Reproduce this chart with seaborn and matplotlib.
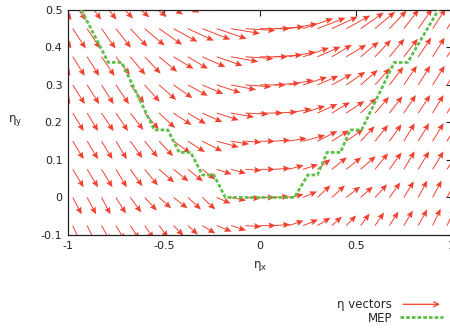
import numpy as np
import matplotlib
matplotlib.use("Agg")
import matplotlib.pyplot as plt
import seaborn as sns
from matplotlib.patches import FancyArrowPatch
from matplotlib.lines import Line2D
from matplotlib.legend_handler import HandlerBase
from matplotlib.ticker import FuncFormatter

# grid of the eta vectors (columns x, rows y)
eta_x = np.linspace(-1.05, 1.05, 29)
eta_y = [-0.075, 0.0, 0.075, 0.15, 0.225, 0.3, 0.375, 0.45, 0.525]

# vector components, one list per row (bottom to top), columns left to right
u_rows = [
    [.042,.042,.042,.047,.047,.047,.047,.047,.052,.052,.068,.078,.078,.083,.083,
     .083,.078,.078,.068,.052,.052,.047,.047,.047,.047,.047,.042,.042,.042],
    [.047,.047,.047,.047,.052,.057,.063,.063,.073,.068,.068,.073,.078,.078,.078,
     .078,.078,.073,.068,.068,.073,.063,.063,.057,.052,.047,.047,.047,.047],
    [.057,.057,.057,.057,.057,.063,.068,.078,.078,.078,.068,.078,.078,.083,.078,
     .083,.078,.078,.068,.078,.078,.078,.068,.063,.057,.057,.057,.057,.057],
    [.057,.057,.057,.057,.057,.063,.068,.073,.089,.089,.104,.115,.094,.083,.078,
     .083,.094,.115,.104,.089,.089,.073,.068,.063,.057,.057,.057,.057,.057],
    [.057,.057,.057,.063,.063,.068,.073,.083,.094,.094,.104,.115,.120,.120,.120,
     .120,.120,.115,.104,.094,.094,.083,.073,.068,.063,.063,.057,.057,.057],
    [.063,.063,.063,.063,.068,.073,.078,.089,.099,.104,.109,.125,.130,.135,.135,
     .135,.130,.125,.109,.104,.099,.089,.078,.073,.068,.063,.063,.063,.063],
    [.063,.063,.063,.068,.073,.078,.083,.094,.104,.104,.120,.135,.141,.146,.146,
     .146,.141,.135,.120,.104,.104,.094,.083,.078,.073,.068,.063,.063,.063],
    [.068,.068,.068,.073,.078,.089,.104,.120,.125,.135,.146,.156,.151,.156,.156,
     .156,.151,.156,.146,.135,.125,.120,.104,.089,.078,.073,.068,.068,.068],
    [.068,.068,.073,.078,.089,.099,.115,.125,.135,.146,.151,.156,.161,.161,.161,
     .161,.161,.156,.151,.146,.135,.125,.115,.099,.089,.078,.073,.068,.068],
]
v_rows = [
    [-.048,-.048,-.045,-.043,-.040,-.037,-.035,-.032,-.027,-.024,-.021,-.016,-.013,-.003,0,
     .003,.013,.016,.021,.024,.027,.032,.035,.037,.040,.043,.045,.048,.048],
    [-.045,-.045,-.045,-.045,-.043,-.040,-.035,-.029,-.029,-.032,-.032,-.016,-.008,-.003,0,
     .003,.008,.016,.032,.032,.029,.029,.035,.040,.043,.045,.045,.045,.045],
    [-.048,-.048,-.048,-.048,-.048,-.045,-.043,-.035,-.032,-.032,-.027,-.013,-.011,-.003,0,
     .003,.011,.013,.027,.032,.032,.035,.043,.045,.048,.048,.048,.048,.048],
    [-.048,-.048,-.048,-.048,-.048,-.045,-.043,-.040,-.032,-.029,-.027,-.016,-.008,-.003,0,
     .003,.008,.016,.027,.029,.032,.040,.043,.045,.048,.048,.048,.048,.048],
    [-.048,-.048,-.048,-.048,-.048,-.045,-.043,-.040,-.032,-.029,-.024,-.019,-.011,-.003,0,
     .003,.011,.019,.024,.029,.032,.040,.043,.045,.048,.048,.048,.048,.048],
    [-.051,-.051,-.051,-.051,-.051,-.048,-.045,-.040,-.035,-.029,-.024,-.021,-.013,-.005,0,
     .005,.013,.021,.024,.029,.035,.040,.045,.048,.051,.051,.051,.051,.051],
    [-.051,-.051,-.051,-.051,-.048,-.048,-.045,-.040,-.032,-.032,-.027,-.024,-.013,-.005,0,
     .005,.013,.024,.027,.032,.032,.040,.045,.048,.048,.051,.051,.051,.051],
    [-.053,-.053,-.053,-.053,-.051,-.048,-.045,-.043,-.035,-.032,-.029,-.027,-.013,-.005,0,
     .005,.013,.027,.029,.032,.035,.043,.045,.048,.051,.053,.053,.053,.053],
    [-.053,-.053,-.051,-.051,-.048,-.045,-.043,-.037,-.032,-.027,-.024,-.019,-.013,-.005,0,
     .005,.013,.019,.024,.027,.032,.037,.043,.045,.048,.051,.051,.053,.053],
]

# minimum energy path
mep_x = [-0.93, -0.79, -0.72, -0.55, -0.48, -0.42, -0.36, -0.30, -0.24, -0.18,
         0.18, 0.25, 0.30, 0.35, 0.42, 0.47, 0.53, 0.70, 0.77, 0.93]
mep_y = [0.5, 0.36, 0.36, 0.18, 0.18, 0.12, 0.12, 0.06, 0.06, 0.0,
         0.0, 0.06, 0.06, 0.12, 0.12, 0.18, 0.18, 0.36, 0.36, 0.5]

red = "#f2402e"
green = "#5cbf48"

sns.set_style("white")
plt.rcParams["font.family"] = ["DejaVu Sans"]

fig = plt.figure(figsize=(4.5, 3.3), dpi=100)
ax = fig.add_axes([0.151, 0.288, 0.853, 0.682])

X, Y = np.meshgrid(eta_x, eta_y)
ax.quiver(X, Y, np.array(u_rows), np.array(v_rows), angles="xy",
          scale_units="xy", scale=1, color=red, width=0.0025,
          headwidth=6.5, headlength=7.5, headaxislength=6.5, zorder=2)

sns.lineplot(x=mep_x, y=mep_y, sort=False, estimator=None, ax=ax,
             color=green, lw=2.0, linestyle=(0, (1.3, 0.75)), zorder=3)

ax.set_xlim(-1, 1)
ax.set_ylim(-0.1, 0.5)
ax.set_xticks([-1, -0.5, 0, 0.5, 1])
ax.set_yticks([-0.1, 0, 0.1, 0.2, 0.3, 0.4, 0.5])
fmt = FuncFormatter(lambda v, p: "%g" % round(v, 2))
ax.xaxis.set_major_formatter(fmt)
ax.yaxis.set_major_formatter(fmt)
ax.tick_params(direction="in", top=True, right=True, length=4.5, width=0.8,
               labelsize=8, colors="#222222", pad=4)
for s in ax.spines.values():
    s.set_color("#222222")
    s.set_linewidth(0.9)

ax.set_xlabel("η$_\\mathregular{x}$", fontsize=8.5, labelpad=6)
ax.set_ylabel("η$_\\mathregular{y}$", fontsize=8.5, rotation=0, va="center", ha="center")
ax.yaxis.set_label_coords(-0.138, 0.507)


class ArrowHandler(HandlerBase):
    def create_artists(self, legend, orig_handle, xdescent, ydescent,
                       width, height, fontsize, trans):
        a = FancyArrowPatch((-xdescent, height / 2 - ydescent),
                            (width - xdescent, height / 2 - ydescent),
                            arrowstyle="->", mutation_scale=9, color=red,
                            lw=0.9, transform=trans)
        return [a]


arrow_proxy = FancyArrowPatch((0, 0), (1, 0))
mep_proxy = Line2D([], [], color=green, lw=2.0, linestyle=(0, (1.3, 0.75)))

fig.legend([arrow_proxy], ["η vectors"], handler_map={FancyArrowPatch: ArrowHandler()},
           loc="center right", bbox_to_anchor=(0.984, 0.076), frameon=False,
           markerfirst=False, fontsize=8.5, handlelength=3.6, handletextpad=0.7,
           borderpad=0, borderaxespad=0)
fig.legend([mep_proxy], ["MEP"], loc="center right", bbox_to_anchor=(0.984, 0.036),
           frameon=False, markerfirst=False, fontsize=8.5, handlelength=3.6,
           handletextpad=0.7, borderpad=0, borderaxespad=0)

fig.savefig("out.png", dpi=100)
